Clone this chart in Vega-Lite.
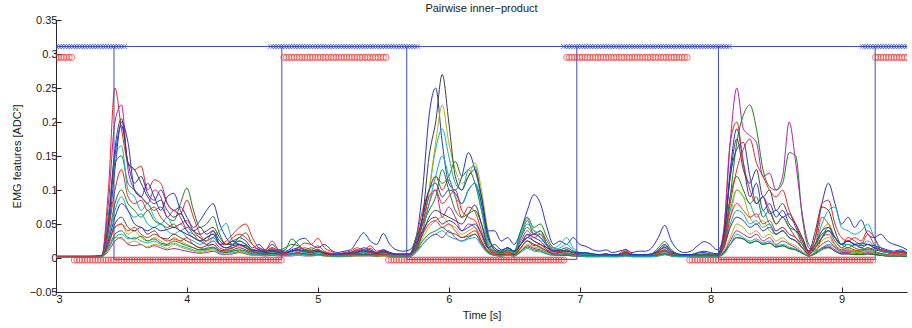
{
"$schema":"https://vega.github.io/schema/vega-lite/v6.json",
"width":851,"height":272,
"autosize":{"type":"none"},
"padding":{"left":56,"top":20,"right":5,"bottom":36},
"title":{"text":"Pairwise inner−product","fontSize":11,"fontWeight":"normal","color":"#1a1a1a","offset":0,"anchor":"middle","font":"Liberation Sans"},
"config":{"view":{"stroke":null},"font":"Liberation Sans","axis":{"grid":false,"domainColor":"#262626","tickColor":"#262626","labelColor":"#1a1a1a","titleColor":"#1a1a1a","labelFontSize":11,"titleFontSize":11,"titleFontWeight":"normal","tickSize":-5,"labelFont":"Liberation Sans","titleFont":"Liberation Sans"}},
"encoding":{
"x":{"field":"t","type":"quantitative","scale":{"domain":[3,9.5],"nice":false,"zero":false},"axis":{"values":[3,4,5,6,7,8,9],"format":"d","labelPadding":6,"title":"Time [s]","titlePadding":5}},
"y":{"field":"v","type":"quantitative","scale":{"domain":[-0.05,0.35],"nice":false,"zero":false},"axis":{"values":[-0.05,0,0.05,0.1,0.15,0.2,0.25,0.3,0.35],"format":"~g","labelPadding":4,"title":"EMG features [ADC²]","titlePadding":7}}
},
"layer":[
{"data":{"values":[
{"s":"a","t":[3,3.05,3.1,3.15,3.2,3.25,3.3,3.35,3.4,3.45,3.5,3.55,3.6,3.65,3.7,3.75,3.8,3.85,3.9,3.95,4,4.05,4.1,4.15,4.2,4.25,4.3,4.35,4.4,4.45,4.5,4.55,4.6,4.65,4.7,4.75,4.8,4.85,4.9,4.95,5,5.05,5.1,5.15,5.2,5.25,5.3,5.35,5.4,5.45,5.5,5.55,5.6,5.65,5.7,5.75,5.8,5.85,5.9,5.95,6,6.05,6.1,6.15,6.2,6.25,6.3,6.35,6.4,6.45,6.5,6.55,6.6,6.65,6.7,6.75,6.8,6.85,6.9,6.95,7,7.05,7.1,7.15,7.2,7.25,7.3,7.35,7.4,7.45,7.5,7.55,7.6,7.65,7.7,7.75,7.8,7.85,7.9,7.95,8,8.05,8.1,8.15,8.2,8.25,8.3,8.35,8.4,8.45,8.5,8.55,8.6,8.65,8.7,8.75,8.8,8.85,8.9,8.95,9,9.05,9.1,9.15,9.2,9.25,9.3,9.35,9.4,9.45,9.5],
"v":[0.002,0.002,0.002,0.002,0.002,0.002,0.003,
0.004,0.06,0.15,0.195,0.14,0.11,0.12,0.095,0.085,0.1,0.08,0.07,0.075,0.06,0.045,0.055,0.07,0.08,0.05,0.03,0.02,0.03,0.025,0.015,0.02,0.012,0.02,0.012,
0.01,0.015,0.026,0.029,0.02,0.015,0.02,0.012,0.008,0.01,0.012,0.025,0.037,0.025,0.02,0.036,0.02,0.012,0.01,
0.012,0.03,0.1,0.21,0.25,0.17,0.11,0.1,0.12,0.155,0.13,0.09,0.04,0.04,0.025,0.03,0.02,0.04,0.07,0.093,0.08,0.045,0.02,0.025,0.02,0.03,
0.02,0.017,0.012,0.01,0.012,0.008,0.01,0.012,0.008,0.01,0.01,0.015,0.03,0.048,0.025,0.012,0.008,0.01,0.018,0.024,0.02,0.012,
0.03,0.13,0.19,0.14,0.09,0.11,0.07,0.08,0.06,0.07,0.05,0.04,0.03,0.01,0.03,0.08,0.11,0.08,0.05,0.06,0.045,0.056,0.035,0.03,
0.035,0.025,0.02,0.017,0.012]},
{"s":"b","t":[3,3.05,3.1,3.15,3.2,3.25,3.3,3.35,3.4,3.45,3.5,3.55,3.6,3.65,3.7,3.75,3.8,3.85,3.9,3.95,4,4.05,4.1,4.15,4.2,4.25,4.3,4.35,4.4,4.45,4.5,4.55,4.6,4.65,4.7,4.75,4.8,4.85,4.9,4.95,5,5.05,5.1,5.15,5.2,5.25,5.3,5.35,5.4,5.45,5.5,5.55,5.6,5.65,5.7,5.75,5.8,5.85,5.9,5.95,6,6.05,6.1,6.15,6.2,6.25,6.3,6.35,6.4,6.45,6.5,6.55,6.6,6.65,6.7,6.75,6.8,6.85,6.9,6.95,7,7.05,7.1,7.15,7.2,7.25,7.3,7.35,7.4,7.45,7.5,7.55,7.6,7.65,7.7,7.75,7.8,7.85,7.9,7.95,8,8.05,8.1,8.15,8.2,8.25,8.3,8.35,8.4,8.45,8.5,8.55,8.6,8.65,8.7,8.75,8.8,8.85,8.9,8.95,9,9.05,9.1,9.15,9.2,9.25,9.3,9.35,9.4,9.45,9.5],
"v":[0.002,0.002,0.002,0.002,0.002,0.002,0.002,
0.003,0.05,0.14,0.15,0.11,0.1,0.09,0.08,0.07,0.075,0.06,0.055,0.08,0.103,0.07,0.045,0.05,0.061,0.035,0.02,0.025,0.03,0.037,0.02,0.012,0.01,0.012,0.01,
0.012,0.028,0.02,0.012,0.015,0.01,0.008,0.006,0.005,0.006,0.008,0.012,0.008,0.01,0.006,0.008,0.006,0.005,0.005,
0.005,0.02,0.06,0.1,0.12,0.11,0.12,0.142,0.12,0.13,0.11,0.07,0.03,0.015,0.01,0.015,0.01,0.04,0.06,0.045,0.05,0.03,0.015,0.012,0.01,0.008,
0.006,0.005,0.004,0.004,0.006,0.004,0.005,0.01,0.005,0.004,0.004,0.006,0.015,0.024,0.012,0.006,0.004,0.004,0.005,0.006,0.005,0.005,
0.02,0.09,0.17,0.21,0.225,0.19,0.13,0.105,0.1,0.11,0.155,0.15,0.06,0.015,0.01,0.03,0.045,0.03,0.02,0.015,0.02,0.015,0.012,0.015,
0.012,0.008,0.006,0.008,0.005]},
{"s":"c","t":[3,3.05,3.1,3.15,3.2,3.25,3.3,3.35,3.4,3.45,3.5,3.55,3.6,3.65,3.7,3.75,3.8,3.85,3.9,3.95,4,4.05,4.1,4.15,4.2,4.25,4.3,4.35,4.4,4.45,4.5,4.55,4.6,4.65,4.7,4.75,4.8,4.85,4.9,4.95,5,5.05,5.1,5.15,5.2,5.25,5.3,5.35,5.4,5.45,5.5,5.55,5.6,5.65,5.7,5.75,5.8,5.85,5.9,5.95,6,6.05,6.1,6.15,6.2,6.25,6.3,6.35,6.4,6.45,6.5,6.55,6.6,6.65,6.7,6.75,6.8,6.85,6.9,6.95,7,7.05,7.1,7.15,7.2,7.25,7.3,7.35,7.4,7.45,7.5,7.55,7.6,7.65,7.7,7.75,7.8,7.85,7.9,7.95,8,8.05,8.1,8.15,8.2,8.25,8.3,8.35,8.4,8.45,8.5,8.55,8.6,8.65,8.7,8.75,8.8,8.85,8.9,8.95,9,9.05,9.1,9.15,9.2,9.25,9.3,9.35,9.4,9.45,9.5],
"v":[0.002,0.002,0.002,0.002,0.002,0.002,0.002,
0.004,0.1,0.25,0.19,0.14,0.13,0.135,0.1,0.115,0.11,0.08,0.07,0.065,0.085,0.06,0.035,0.025,0.04,0.02,0.025,0.035,0.045,0.05,0.03,0.015,0.012,0.025,0.012,
0.008,0.01,0.015,0.022,0.02,0.029,0.015,0.01,0.006,0.008,0.01,0.015,0.012,0.018,0.01,0.012,0.008,0.006,0.006,
0.006,0.03,0.07,0.1,0.12,0.1,0.115,0.09,0.06,0.075,0.068,0.04,0.015,0.01,0.008,0.012,0.01,0.03,0.055,0.035,0.04,0.025,0.012,0.01,0.008,0.006,
0.005,0.006,0.004,0.004,0.005,0.004,0.006,0.013,0.006,0.004,0.004,0.005,0.01,0.016,0.008,0.005,0.004,0.004,0.005,0.005,0.004,0.004,
0.04,0.17,0.2,0.14,0.1,0.08,0.09,0.07,0.05,0.06,0.045,0.03,0.02,0.008,0.02,0.06,0.05,0.03,0.02,0.03,0.025,0.02,0.035,0.02,
0.012,0.01,0.008,0.01,0.006]},
{"s":"d","t":[3,3.05,3.1,3.15,3.2,3.25,3.3,3.35,3.4,3.45,3.5,3.55,3.6,3.65,3.7,3.75,3.8,3.85,3.9,3.95,4,4.05,4.1,4.15,4.2,4.25,4.3,4.35,4.4,4.45,4.5,4.55,4.6,4.65,4.7,4.75,4.8,4.85,4.9,4.95,5,5.05,5.1,5.15,5.2,5.25,5.3,5.35,5.4,5.45,5.5,5.55,5.6,5.65,5.7,5.75,5.8,5.85,5.9,5.95,6,6.05,6.1,6.15,6.2,6.25,6.3,6.35,6.4,6.45,6.5,6.55,6.6,6.65,6.7,6.75,6.8,6.85,6.9,6.95,7,7.05,7.1,7.15,7.2,7.25,7.3,7.35,7.4,7.45,7.5,7.55,7.6,7.65,7.7,7.75,7.8,7.85,7.9,7.95,8,8.05,8.1,8.15,8.2,8.25,8.3,8.35,8.4,8.45,8.5,8.55,8.6,8.65,8.7,8.75,8.8,8.85,8.9,8.95,9,9.05,9.1,9.15,9.2,9.25,9.3,9.35,9.4,9.45,9.5],
"v":[0.002,0.002,0.002,0.002,0.002,0.002,0.002,
0.003,0.06,0.15,0.165,0.1,0.09,0.07,0.08,0.06,0.05,0.06,0.045,0.05,0.04,0.035,0.03,0.02,0.03,0.04,0.051,0.025,0.02,0.015,0.01,0.012,0.008,0.01,0.008,
0.006,0.01,0.012,0.008,0.01,0.012,0.007,0.005,0.005,0.006,0.005,0.008,0.01,0.008,0.006,0.01,0.006,0.005,0.005,
0.005,0.02,0.05,0.1,0.16,0.19,0.15,0.11,0.1,0.13,0.135,0.08,0.025,0.012,0.008,0.012,0.01,0.035,0.058,0.04,0.03,0.02,0.015,0.02,0.03,0.015,
0.008,0.006,0.005,0.004,0.005,0.004,0.004,0.006,0.004,0.004,0.004,0.005,0.008,0.01,0.006,0.004,0.004,0.004,0.004,0.005,0.004,0.004,
0.02,0.07,0.1,0.09,0.08,0.06,0.07,0.05,0.04,0.045,0.035,0.03,0.02,0.008,0.02,0.05,0.07,0.075,0.045,0.04,0.035,0.04,0.05,0.03,
0.015,0.01,0.008,0.01,0.007]},
{"s":"e","t":[3,3.05,3.1,3.15,3.2,3.25,3.3,3.35,3.4,3.45,3.5,3.55,3.6,3.65,3.7,3.75,3.8,3.85,3.9,3.95,4,4.05,4.1,4.15,4.2,4.25,4.3,4.35,4.4,4.45,4.5,4.55,4.6,4.65,4.7,4.75,4.8,4.85,4.9,4.95,5,5.05,5.1,5.15,5.2,5.25,5.3,5.35,5.4,5.45,5.5,5.55,5.6,5.65,5.7,5.75,5.8,5.85,5.9,5.95,6,6.05,6.1,6.15,6.2,6.25,6.3,6.35,6.4,6.45,6.5,6.55,6.6,6.65,6.7,6.75,6.8,6.85,6.9,6.95,7,7.05,7.1,7.15,7.2,7.25,7.3,7.35,7.4,7.45,7.5,7.55,7.6,7.65,7.7,7.75,7.8,7.85,7.9,7.95,8,8.05,8.1,8.15,8.2,8.25,8.3,8.35,8.4,8.45,8.5,8.55,8.6,8.65,8.7,8.75,8.8,8.85,8.9,8.95,9,9.05,9.1,9.15,9.2,9.25,9.3,9.35,9.4,9.45,9.5],
"v":[0.002,0.002,0.002,0.002,0.002,0.002,0.002,
0.003,0.08,0.2,0.225,0.13,0.1,0.09,0.08,0.1,0.09,0.06,0.07,0.06,0.04,0.03,0.025,0.02,0.025,0.015,0.012,0.015,0.02,0.015,0.01,0.008,0.008,0.01,0.008,
0.005,0.006,0.008,0.006,0.006,0.008,0.005,0.004,0.004,0.004,0.005,0.006,0.005,0.006,0.004,0.005,0.004,0.004,0.004,
0.004,0.015,0.04,0.08,0.1,0.06,0.075,0.06,0.04,0.05,0.045,0.025,0.01,0.008,0.006,0.008,0.006,0.02,0.034,0.025,0.02,0.012,0.008,0.006,0.006,0.005,
0.004,0.004,0.003,0.003,0.004,0.003,0.004,0.006,0.004,0.003,0.003,0.004,0.006,0.01,0.005,0.003,0.003,0.003,0.004,0.004,0.004,0.004,
0.04,0.17,0.25,0.19,0.18,0.17,0.12,0.125,0.1,0.12,0.2,0.14,0.065,0.02,0.012,0.02,0.025,0.015,0.01,0.012,0.01,0.008,0.01,0.008,
0.006,0.005,0.004,0.005,0.004]},
{"s":"f","t":[3,3.05,3.1,3.15,3.2,3.25,3.3,3.35,3.4,3.45,3.5,3.55,3.6,3.65,3.7,3.75,3.8,3.85,3.9,3.95,4,4.05,4.1,4.15,4.2,4.25,4.3,4.35,4.4,4.45,4.5,4.55,4.6,4.65,4.7,4.75,4.8,4.85,4.9,4.95,5,5.05,5.1,5.15,5.2,5.25,5.3,5.35,5.4,5.45,5.5,5.55,5.6,5.65,5.7,5.75,5.8,5.85,5.9,5.95,6,6.05,6.1,6.15,6.2,6.25,6.3,6.35,6.4,6.45,6.5,6.55,6.6,6.65,6.7,6.75,6.8,6.85,6.9,6.95,7,7.05,7.1,7.15,7.2,7.25,7.3,7.35,7.4,7.45,7.5,7.55,7.6,7.65,7.7,7.75,7.8,7.85,7.9,7.95,8,8.05,8.1,8.15,8.2,8.25,8.3,8.35,8.4,8.45,8.5,8.55,8.6,8.65,8.7,8.75,8.8,8.85,8.9,8.95,9,9.05,9.1,9.15,9.2,9.25,9.3,9.35,9.4,9.45,9.5],
"v":[0.002,0.002,0.002,0.002,0.002,0.002,0.002,
0.002,0.02,0.045,0.05,0.035,0.04,0.03,0.025,0.03,0.025,0.02,0.03,0.025,0.02,0.015,0.012,0.015,0.02,0.01,0.008,0.01,0.012,0.01,0.006,0.006,0.005,0.006,0.005,
0.004,0.005,0.006,0.005,0.004,0.005,0.004,0.003,0.003,0.003,0.004,0.005,0.004,0.005,0.003,0.004,0.003,0.003,0.003,
0.004,0.012,0.04,0.1,0.17,0.225,0.17,0.13,0.11,0.12,0.14,0.1,0.04,0.012,0.008,0.008,0.006,0.015,0.025,0.02,0.015,0.01,0.006,0.005,0.005,0.004,
0.003,0.003,0.003,0.003,0.003,0.003,0.003,0.004,0.003,0.003,0.003,0.003,0.005,0.007,0.004,0.003,0.003,0.003,0.003,0.003,0.003,0.003,
0.015,0.06,0.1,0.09,0.06,0.05,0.055,0.04,0.035,0.04,0.03,0.025,0.015,0.006,0.015,0.04,0.05,0.03,0.015,0.012,0.01,0.012,0.01,0.008,
0.006,0.005,0.004,0.005,0.004]},
{"s":"g","t":[3,3.05,3.1,3.15,3.2,3.25,3.3,3.35,3.4,3.45,3.5,3.55,3.6,3.65,3.7,3.75,3.8,3.85,3.9,3.95,4,4.05,4.1,4.15,4.2,4.25,4.3,4.35,4.4,4.45,4.5,4.55,4.6,4.65,4.7,4.75,4.8,4.85,4.9,4.95,5,5.05,5.1,5.15,5.2,5.25,5.3,5.35,5.4,5.45,5.5,5.55,5.6,5.65,5.7,5.75,5.8,5.85,5.9,5.95,6,6.05,6.1,6.15,6.2,6.25,6.3,6.35,6.4,6.45,6.5,6.55,6.6,6.65,6.7,6.75,6.8,6.85,6.9,6.95,7,7.05,7.1,7.15,7.2,7.25,7.3,7.35,7.4,7.45,7.5,7.55,7.6,7.65,7.7,7.75,7.8,7.85,7.9,7.95,8,8.05,8.1,8.15,8.2,8.25,8.3,8.35,8.4,8.45,8.5,8.55,8.6,8.65,8.7,8.75,8.8,8.85,8.9,8.95,9,9.05,9.1,9.15,9.2,9.25,9.3,9.35,9.4,9.45,9.5],
"v":[0.003,0.003,0.003,0.003,0.003,0.003,0.003,
0.004,0.05,0.16,0.205,0.14,0.13,0.11,0.09,0.08,0.085,0.07,0.06,0.065,0.05,0.04,0.035,0.04,0.045,0.03,0.02,0.02,0.025,0.02,0.012,0.01,0.01,0.012,0.01,
0.008,0.01,0.012,0.01,0.008,0.01,0.007,0.006,0.005,0.006,0.006,0.008,0.01,0.008,0.006,0.008,0.006,0.005,0.005,
0.005,0.015,0.06,0.15,0.2,0.27,0.2,0.12,0.1,0.12,0.13,0.09,0.035,0.012,0.008,0.01,0.008,0.02,0.03,0.025,0.02,0.015,0.01,0.008,0.01,0.008,
0.006,0.005,0.004,0.004,0.005,0.004,0.004,0.006,0.004,0.004,0.004,0.005,0.008,0.012,0.006,0.004,0.004,0.004,0.005,0.005,0.005,0.005,
0.03,0.12,0.175,0.13,0.11,0.13,0.09,0.1,0.07,0.08,0.06,0.05,0.03,0.01,0.04,0.075,0.07,0.04,0.02,0.025,0.02,0.015,0.02,0.015,
0.01,0.008,0.006,0.008,0.006]},
{"s":"h","t":[3,3.05,3.1,3.15,3.2,3.25,3.3,3.35,3.4,3.45,3.5,3.55,3.6,3.65,3.7,3.75,3.8,3.85,3.9,3.95,4,4.05,4.1,4.15,4.2,4.25,4.3,4.35,4.4,4.45,4.5,4.55,4.6,4.65,4.7,4.75,4.8,4.85,4.9,4.95,5,5.05,5.1,5.15,5.2,5.25,5.3,5.35,5.4,5.45,5.5,5.55,5.6,5.65,5.7,5.75,5.8,5.85,5.9,5.95,6,6.05,6.1,6.15,6.2,6.25,6.3,6.35,6.4,6.45,6.5,6.55,6.6,6.65,6.7,6.75,6.8,6.85,6.9,6.95,7,7.05,7.1,7.15,7.2,7.25,7.3,7.35,7.4,7.45,7.5,7.55,7.6,7.65,7.7,7.75,7.8,7.85,7.9,7.95,8,8.05,8.1,8.15,8.2,8.25,8.3,8.35,8.4,8.45,8.5,8.55,8.6,8.65,8.7,8.75,8.8,8.85,8.9,8.95,9,9.05,9.1,9.15,9.2,9.25,9.3,9.35,9.4,9.45,9.5],
"v":[0.002,0.002,0.002,0.002,0.002,0.002,0.002,
0.003,0.04,0.13,0.2,0.17,0.1,0.09,0.11,0.09,0.07,0.09,0.095,0.07,0.05,0.04,0.045,0.035,0.04,0.025,0.02,0.025,0.02,0.018,0.012,0.015,0.01,0.012,0.01,
0.008,0.012,0.015,0.012,0.01,0.012,0.008,0.006,0.006,0.007,0.008,0.01,0.015,0.012,0.008,0.012,0.008,0.006,0.006,
0.006,0.025,0.06,0.1,0.11,0.09,0.1,0.095,0.08,0.1,0.11,0.08,0.03,0.015,0.01,0.015,0.01,0.02,0.035,0.03,0.025,0.015,0.01,0.01,0.012,0.008,
0.008,0.007,0.006,0.005,0.006,0.005,0.005,0.008,0.005,0.005,0.005,0.006,0.01,0.015,0.008,0.005,0.005,0.005,0.007,0.008,0.006,0.006,
0.03,0.12,0.16,0.17,0.12,0.08,0.09,0.065,0.07,0.06,0.065,0.045,0.025,0.01,0.02,0.04,0.045,0.03,0.02,0.025,0.02,0.018,0.02,0.015,
0.012,0.01,0.008,0.01,0.007]},
{"s":"i","t":[3,3.05,3.1,3.15,3.2,3.25,3.3,3.35,3.4,3.45,3.5,3.55,3.6,3.65,3.7,3.75,3.8,3.85,3.9,3.95,4,4.05,4.1,4.15,4.2,4.25,4.3,4.35,4.4,4.45,4.5,4.55,4.6,4.65,4.7,4.75,4.8,4.85,4.9,4.95,5,5.05,5.1,5.15,5.2,5.25,5.3,5.35,5.4,5.45,5.5,5.55,5.6,5.65,5.7,5.75,5.8,5.85,5.9,5.95,6,6.05,6.1,6.15,6.2,6.25,6.3,6.35,6.4,6.45,6.5,6.55,6.6,6.65,6.7,6.75,6.8,6.85,6.9,6.95,7,7.05,7.1,7.15,7.2,7.25,7.3,7.35,7.4,7.45,7.5,7.55,7.6,7.65,7.7,7.75,7.8,7.85,7.9,7.95,8,8.05,8.1,8.15,8.2,8.25,8.3,8.35,8.4,8.45,8.5,8.55,8.6,8.65,8.7,8.75,8.8,8.85,8.9,8.95,9,9.05,9.1,9.15,9.2,9.25,9.3,9.35,9.4,9.45,9.5],
"v":[0.002,0.002,0.002,0.002,0.002,0.002,0.002,
0.003,0.03,0.08,0.1,0.08,0.07,0.06,0.07,0.055,0.05,0.045,0.05,0.04,0.045,0.035,0.025,0.03,0.035,0.02,0.015,0.02,0.025,0.02,0.012,0.01,0.01,0.015,0.012,
0.015,0.02,0.018,0.012,0.01,0.012,0.008,0.006,0.005,0.006,0.007,0.01,0.008,0.01,0.007,0.008,0.006,0.005,0.005,
0.005,0.03,0.05,0.07,0.09,0.13,0.1,0.07,0.06,0.065,0.07,0.05,0.02,0.01,0.008,0.012,0.01,0.03,0.045,0.035,0.04,0.02,0.012,0.01,0.012,0.008,
0.006,0.005,0.005,0.004,0.005,0.004,0.005,0.008,0.005,0.004,0.004,0.005,0.01,0.018,0.01,0.005,0.004,0.004,0.005,0.005,0.005,0.005,
0.025,0.09,0.12,0.1,0.08,0.09,0.06,0.07,0.05,0.06,0.045,0.04,0.02,0.008,0.02,0.035,0.04,0.025,0.015,0.02,0.015,0.012,0.015,0.012,
0.01,0.008,0.006,0.008,0.006]},
{"s":"j","t":[3,3.05,3.1,3.15,3.2,3.25,3.3,3.35,3.4,3.45,3.5,3.55,3.6,3.65,3.7,3.75,3.8,3.85,3.9,3.95,4,4.05,4.1,4.15,4.2,4.25,4.3,4.35,4.4,4.45,4.5,4.55,4.6,4.65,4.7,4.75,4.8,4.85,4.9,4.95,5,5.05,5.1,5.15,5.2,5.25,5.3,5.35,5.4,5.45,5.5,5.55,5.6,5.65,5.7,5.75,5.8,5.85,5.9,5.95,6,6.05,6.1,6.15,6.2,6.25,6.3,6.35,6.4,6.45,6.5,6.55,6.6,6.65,6.7,6.75,6.8,6.85,6.9,6.95,7,7.05,7.1,7.15,7.2,7.25,7.3,7.35,7.4,7.45,7.5,7.55,7.6,7.65,7.7,7.75,7.8,7.85,7.9,7.95,8,8.05,8.1,8.15,8.2,8.25,8.3,8.35,8.4,8.45,8.5,8.55,8.6,8.65,8.7,8.75,8.8,8.85,8.9,8.95,9,9.05,9.1,9.15,9.2,9.25,9.3,9.35,9.4,9.45,9.5],
"v":[0.002,0.002,0.002,0.002,0.002,0.002,0.002,
0.003,0.04,0.1,0.13,0.09,0.08,0.085,0.07,0.075,0.06,0.05,0.045,0.05,0.055,0.04,0.03,0.025,0.03,0.02,0.02,0.03,0.035,0.03,0.02,0.012,0.01,0.015,0.01,
0.008,0.01,0.012,0.015,0.012,0.018,0.01,0.007,0.005,0.006,0.008,0.012,0.01,0.014,0.008,0.01,0.007,0.005,0.005,
0.005,0.02,0.05,0.09,0.1,0.08,0.09,0.1,0.07,0.06,0.055,0.035,0.015,0.008,0.006,0.008,0.006,0.025,0.04,0.03,0.035,0.02,0.01,0.008,0.006,0.005,
0.004,0.004,0.003,0.004,0.005,0.003,0.004,0.01,0.004,0.003,0.003,0.004,0.008,0.012,0.006,0.004,0.003,0.003,0.004,0.004,0.004,0.004,
0.02,0.08,0.13,0.16,0.175,0.14,0.12,0.1,0.09,0.1,0.07,0.05,0.025,0.008,0.03,0.08,0.085,0.05,0.03,0.025,0.03,0.025,0.04,0.03,
0.012,0.01,0.008,0.009,0.006]},
{"s":"k","t":[3,3.05,3.1,3.15,3.2,3.25,3.3,3.35,3.4,3.45,3.5,3.55,3.6,3.65,3.7,3.75,3.8,3.85,3.9,3.95,4,4.05,4.1,4.15,4.2,4.25,4.3,4.35,4.4,4.45,4.5,4.55,4.6,4.65,4.7,4.75,4.8,4.85,4.9,4.95,5,5.05,5.1,5.15,5.2,5.25,5.3,5.35,5.4,5.45,5.5,5.55,5.6,5.65,5.7,5.75,5.8,5.85,5.9,5.95,6,6.05,6.1,6.15,6.2,6.25,6.3,6.35,6.4,6.45,6.5,6.55,6.6,6.65,6.7,6.75,6.8,6.85,6.9,6.95,7,7.05,7.1,7.15,7.2,7.25,7.3,7.35,7.4,7.45,7.5,7.55,7.6,7.65,7.7,7.75,7.8,7.85,7.9,7.95,8,8.05,8.1,8.15,8.2,8.25,8.3,8.35,8.4,8.45,8.5,8.55,8.6,8.65,8.7,8.75,8.8,8.85,8.9,8.95,9,9.05,9.1,9.15,9.2,9.25,9.3,9.35,9.4,9.45,9.5],
"v":[0.002,0.002,0.002,0.002,0.002,0.002,0.002,
0.003,0.03,0.07,0.09,0.07,0.06,0.065,0.05,0.045,0.05,0.04,0.035,0.04,0.03,0.025,0.02,0.025,0.03,0.02,0.015,0.015,0.02,0.015,0.01,0.008,0.007,0.008,0.007,
0.006,0.008,0.01,0.008,0.007,0.008,0.006,0.004,0.004,0.005,0.005,0.006,0.008,0.006,0.005,0.007,0.005,0.004,0.004,
0.004,0.015,0.04,0.08,0.12,0.15,0.12,0.09,0.08,0.1,0.11,0.07,0.02,0.01,0.006,0.01,0.008,0.03,0.05,0.04,0.035,0.02,0.012,0.015,0.02,0.012,
0.006,0.005,0.004,0.004,0.004,0.003,0.004,0.005,0.004,0.003,0.003,0.004,0.006,0.008,0.005,0.004,0.003,0.003,0.004,0.004,0.004,0.004,
0.015,0.05,0.07,0.065,0.05,0.055,0.045,0.05,0.035,0.04,0.03,0.025,0.015,0.006,0.015,0.03,0.04,0.03,0.02,0.02,0.018,0.02,0.025,0.018,
0.01,0.008,0.006,0.007,0.005]},
{"s":"l","t":[3,3.05,3.1,3.15,3.2,3.25,3.3,3.35,3.4,3.45,3.5,3.55,3.6,3.65,3.7,3.75,3.8,3.85,3.9,3.95,4,4.05,4.1,4.15,4.2,4.25,4.3,4.35,4.4,4.45,4.5,4.55,4.6,4.65,4.7,4.75,4.8,4.85,4.9,4.95,5,5.05,5.1,5.15,5.2,5.25,5.3,5.35,5.4,5.45,5.5,5.55,5.6,5.65,5.7,5.75,5.8,5.85,5.9,5.95,6,6.05,6.1,6.15,6.2,6.25,6.3,6.35,6.4,6.45,6.5,6.55,6.6,6.65,6.7,6.75,6.8,6.85,6.9,6.95,7,7.05,7.1,7.15,7.2,7.25,7.3,7.35,7.4,7.45,7.5,7.55,7.6,7.65,7.7,7.75,7.8,7.85,7.9,7.95,8,8.05,8.1,8.15,8.2,8.25,8.3,8.35,8.4,8.45,8.5,8.55,8.6,8.65,8.7,8.75,8.8,8.85,8.9,8.95,9,9.05,9.1,9.15,9.2,9.25,9.3,9.35,9.4,9.45,9.5],
"v":[0.001,0.001,0.001,0.001,0.001,0.001,0.001,
0.002,0.01,0.025,0.03,0.02,0.018,0.02,0.015,0.018,0.015,0.012,0.014,0.012,0.01,0.008,0.007,0.008,0.01,0.006,0.005,0.006,0.008,0.006,0.004,0.004,0.003,0.004,0.003,
0.003,0.003,0.004,0.003,0.003,0.004,0.003,0.002,0.002,0.002,0.003,0.003,0.003,0.003,0.002,0.003,0.002,0.002,0.002,
0.002,0.008,0.02,0.03,0.035,0.03,0.04,0.03,0.025,0.03,0.035,0.02,0.008,0.004,0.003,0.004,0.003,0.01,0.018,0.014,0.012,0.008,0.005,0.004,0.004,0.003,
0.003,0.002,0.002,0.002,0.002,0.002,0.002,0.003,0.002,0.002,0.002,0.002,0.003,0.005,0.003,0.002,0.002,0.002,0.002,0.002,0.002,0.002,
0.008,0.025,0.04,0.035,0.03,0.035,0.025,0.03,0.02,0.025,0.02,0.015,0.008,0.003,0.008,0.015,0.018,0.012,0.008,0.008,0.007,0.006,0.008,0.006,
0.004,0.003,0.003,0.003,0.002]},
{"s":"m","t":[3,3.05,3.1,3.15,3.2,3.25,3.3,3.35,3.4,3.45,3.5,3.55,3.6,3.65,3.7,3.75,3.8,3.85,3.9,3.95,4,4.05,4.1,4.15,4.2,4.25,4.3,4.35,4.4,4.45,4.5,4.55,4.6,4.65,4.7,4.75,4.8,4.85,4.9,4.95,5,5.05,5.1,5.15,5.2,5.25,5.3,5.35,5.4,5.45,5.5,5.55,5.6,5.65,5.7,5.75,5.8,5.85,5.9,5.95,6,6.05,6.1,6.15,6.2,6.25,6.3,6.35,6.4,6.45,6.5,6.55,6.6,6.65,6.7,6.75,6.8,6.85,6.9,6.95,7,7.05,7.1,7.15,7.2,7.25,7.3,7.35,7.4,7.45,7.5,7.55,7.6,7.65,7.7,7.75,7.8,7.85,7.9,7.95,8,8.05,8.1,8.15,8.2,8.25,8.3,8.35,8.4,8.45,8.5,8.55,8.6,8.65,8.7,8.75,8.8,8.85,8.9,8.95,9,9.05,9.1,9.15,9.2,9.25,9.3,9.35,9.4,9.45,9.5],
"v":[0.001,0.001,0.001,0.001,0.001,0.001,0.001,
0.002,0.012,0.03,0.028,0.022,0.025,0.02,0.016,0.02,0.018,0.014,0.02,0.016,0.013,0.01,0.008,0.01,0.012,0.007,0.006,0.007,0.009,0.007,0.004,0.004,0.004,0.005,0.004,
0.003,0.004,0.004,0.004,0.003,0.004,0.003,0.002,0.002,0.002,0.003,0.003,0.003,0.004,0.002,0.003,0.002,0.002,0.002,
0.003,0.01,0.03,0.045,0.055,0.06,0.05,0.045,0.035,0.04,0.045,0.03,0.012,0.005,0.004,0.005,0.004,0.012,0.02,0.016,0.014,0.008,0.005,0.004,0.004,0.003,
0.003,0.002,0.002,0.002,0.002,0.002,0.002,0.003,0.002,0.002,0.002,0.002,0.003,0.005,0.003,0.002,0.002,0.002,0.002,0.002,0.002,0.002,
0.01,0.03,0.05,0.045,0.035,0.04,0.03,0.035,0.025,0.03,0.022,0.018,0.01,0.004,0.01,0.025,0.03,0.018,0.01,0.01,0.008,0.008,0.01,0.007,
0.005,0.004,0.003,0.004,0.003]},
{"s":"n","t":[3,3.05,3.1,3.15,3.2,3.25,3.3,3.35,3.4,3.45,3.5,3.55,3.6,3.65,3.7,3.75,3.8,3.85,3.9,3.95,4,4.05,4.1,4.15,4.2,4.25,4.3,4.35,4.4,4.45,4.5,4.55,4.6,4.65,4.7,4.75,4.8,4.85,4.9,4.95,5,5.05,5.1,5.15,5.2,5.25,5.3,5.35,5.4,5.45,5.5,5.55,5.6,5.65,5.7,5.75,5.8,5.85,5.9,5.95,6,6.05,6.1,6.15,6.2,6.25,6.3,6.35,6.4,6.45,6.5,6.55,6.6,6.65,6.7,6.75,6.8,6.85,6.9,6.95,7,7.05,7.1,7.15,7.2,7.25,7.3,7.35,7.4,7.45,7.5,7.55,7.6,7.65,7.7,7.75,7.8,7.85,7.9,7.95,8,8.05,8.1,8.15,8.2,8.25,8.3,8.35,8.4,8.45,8.5,8.55,8.6,8.65,8.7,8.75,8.8,8.85,8.9,8.95,9,9.05,9.1,9.15,9.2,9.25,9.3,9.35,9.4,9.45,9.5],
"v":[0.002,0.002,0.002,0.002,0.002,0.002,0.002,
0.003,0.02,0.05,0.06,0.045,0.04,0.045,0.035,0.04,0.03,0.028,0.035,0.03,0.025,0.02,0.015,0.018,0.02,0.012,0.01,0.012,0.015,0.012,0.008,0.007,0.006,0.007,0.006,
0.005,0.006,0.007,0.006,0.005,0.006,0.004,0.004,0.003,0.004,0.004,0.005,0.005,0.005,0.004,0.005,0.004,0.003,0.003,
0.003,0.012,0.035,0.06,0.07,0.065,0.06,0.055,0.05,0.065,0.078,0.05,0.015,0.006,0.005,0.006,0.005,0.015,0.025,0.02,0.016,0.01,0.006,0.005,0.005,0.004,
0.003,0.003,0.003,0.003,0.003,0.003,0.003,0.004,0.003,0.003,0.003,0.003,0.004,0.006,0.004,0.003,0.003,0.003,0.003,0.003,0.003,0.003,
0.008,0.02,0.03,0.028,0.022,0.025,0.02,0.022,0.016,0.018,0.014,0.012,0.007,0.003,0.007,0.014,0.016,0.01,0.006,0.006,0.005,0.005,0.006,0.005,
0.004,0.003,0.003,0.003,0.002]},
{"s":"o","t":[3,3.05,3.1,3.15,3.2,3.25,3.3,3.35,3.4,3.45,3.5,3.55,3.6,3.65,3.7,3.75,3.8,3.85,3.9,3.95,4,4.05,4.1,4.15,4.2,4.25,4.3,4.35,4.4,4.45,4.5,4.55,4.6,4.65,4.7,4.75,4.8,4.85,4.9,4.95,5,5.05,5.1,5.15,5.2,5.25,5.3,5.35,5.4,5.45,5.5,5.55,5.6,5.65,5.7,5.75,5.8,5.85,5.9,5.95,6,6.05,6.1,6.15,6.2,6.25,6.3,6.35,6.4,6.45,6.5,6.55,6.6,6.65,6.7,6.75,6.8,6.85,6.9,6.95,7,7.05,7.1,7.15,7.2,7.25,7.3,7.35,7.4,7.45,7.5,7.55,7.6,7.65,7.7,7.75,7.8,7.85,7.9,7.95,8,8.05,8.1,8.15,8.2,8.25,8.3,8.35,8.4,8.45,8.5,8.55,8.6,8.65,8.7,8.75,8.8,8.85,8.9,8.95,9,9.05,9.1,9.15,9.2,9.25,9.3,9.35,9.4,9.45,9.5],
"v":[0.002,0.002,0.002,0.002,0.002,0.002,0.002,
0.003,0.025,0.06,0.08,0.07,0.05,0.045,0.04,0.045,0.04,0.042,0.045,0.04,0.035,0.03,0.025,0.03,0.035,0.02,0.015,0.018,0.02,0.016,0.01,0.012,0.008,0.01,0.008,
0.007,0.01,0.012,0.01,0.008,0.01,0.007,0.005,0.005,0.006,0.007,0.008,0.012,0.01,0.007,0.01,0.007,0.005,0.005,
0.005,0.02,0.04,0.055,0.06,0.05,0.055,0.05,0.04,0.045,0.05,0.035,0.015,0.02,0.012,0.015,0.01,0.02,0.03,0.035,0.03,0.018,0.01,0.012,0.015,0.01,
0.007,0.008,0.006,0.005,0.006,0.004,0.005,0.007,0.005,0.005,0.005,0.006,0.012,0.02,0.01,0.006,0.005,0.005,0.008,0.01,0.008,0.006,
0.015,0.045,0.06,0.055,0.045,0.05,0.04,0.045,0.035,0.04,0.03,0.025,0.015,0.006,0.015,0.03,0.04,0.03,0.02,0.025,0.02,0.022,0.02,0.018,
0.015,0.012,0.01,0.012,0.008]},
{"s":"p","t":[3,3.05,3.1,3.15,3.2,3.25,3.3,3.35,3.4,3.45,3.5,3.55,3.6,3.65,3.7,3.75,3.8,3.85,3.9,3.95,4,4.05,4.1,4.15,4.2,4.25,4.3,4.35,4.4,4.45,4.5,4.55,4.6,4.65,4.7,4.75,4.8,4.85,4.9,4.95,5,5.05,5.1,5.15,5.2,5.25,5.3,5.35,5.4,5.45,5.5,5.55,5.6,5.65,5.7,5.75,5.8,5.85,5.9,5.95,6,6.05,6.1,6.15,6.2,6.25,6.3,6.35,6.4,6.45,6.5,6.55,6.6,6.65,6.7,6.75,6.8,6.85,6.9,6.95,7,7.05,7.1,7.15,7.2,7.25,7.3,7.35,7.4,7.45,7.5,7.55,7.6,7.65,7.7,7.75,7.8,7.85,7.9,7.95,8,8.05,8.1,8.15,8.2,8.25,8.3,8.35,8.4,8.45,8.5,8.55,8.6,8.65,8.7,8.75,8.8,8.85,8.9,8.95,9,9.05,9.1,9.15,9.2,9.25,9.3,9.35,9.4,9.45,9.5],
"v":[0.001,0.001,0.001,0.001,0.001,0.001,0.001,
0.002,0.015,0.035,0.04,0.03,0.028,0.032,0.025,0.028,0.022,0.02,0.025,0.022,0.018,0.015,0.012,0.014,0.016,0.01,0.008,0.01,0.012,0.01,0.006,0.005,0.005,0.006,0.005,
0.004,0.005,0.006,0.005,0.004,0.005,0.004,0.003,0.003,0.003,0.003,0.004,0.004,0.004,0.003,0.004,0.003,0.003,0.003,
0.003,0.01,0.025,0.035,0.04,0.045,0.038,0.035,0.03,0.032,0.035,0.022,0.008,0.004,0.003,0.004,0.003,0.01,0.016,0.012,0.01,0.006,0.004,0.004,0.004,0.003,
0.003,0.002,0.002,0.002,0.003,0.002,0.002,0.004,0.002,0.002,0.002,0.002,0.004,0.006,0.003,0.002,0.002,0.002,0.002,0.002,0.002,0.002,
0.006,0.02,0.03,0.028,0.022,0.025,0.02,0.022,0.016,0.018,0.014,0.012,0.007,0.003,0.006,0.012,0.015,0.01,0.006,0.006,0.005,0.005,0.006,0.005,
0.004,0.003,0.003,0.003,0.002]},
{"s":"q","t":[3,3.05,3.1,3.15,3.2,3.25,3.3,3.35,3.4,3.45,3.5,3.55,3.6,3.65,3.7,3.75,3.8,3.85,3.9,3.95,4,4.05,4.1,4.15,4.2,4.25,4.3,4.35,4.4,4.45,4.5,4.55,4.6,4.65,4.7,4.75,4.8,4.85,4.9,4.95,5,5.05,5.1,5.15,5.2,5.25,5.3,5.35,5.4,5.45,5.5,5.55,5.6,5.65,5.7,5.75,5.8,5.85,5.9,5.95,6,6.05,6.1,6.15,6.2,6.25,6.3,6.35,6.4,6.45,6.5,6.55,6.6,6.65,6.7,6.75,6.8,6.85,6.9,6.95,7,7.05,7.1,7.15,7.2,7.25,7.3,7.35,7.4,7.45,7.5,7.55,7.6,7.65,7.7,7.75,7.8,7.85,7.9,7.95,8,8.05,8.1,8.15,8.2,8.25,8.3,8.35,8.4,8.45,8.5,8.55,8.6,8.65,8.7,8.75,8.8,8.85,8.9,8.95,9,9.05,9.1,9.15,9.2,9.25,9.3,9.35,9.4,9.45,9.5],
"v":[0.002,0.002,0.002,0.002,0.002,0.002,0.002,
0.003,0.02,0.045,0.05,0.04,0.045,0.035,0.03,0.035,0.03,0.025,0.028,0.025,0.03,0.02,0.015,0.012,0.015,0.01,0.012,0.015,0.018,0.015,0.01,0.007,0.006,0.01,0.006,
0.005,0.006,0.008,0.01,0.008,0.012,0.006,0.004,0.004,0.004,0.005,0.007,0.006,0.008,0.005,0.006,0.004,0.004,0.004,
0.004,0.015,0.035,0.05,0.055,0.045,0.05,0.04,0.03,0.035,0.04,0.025,0.01,0.005,0.004,0.005,0.004,0.015,0.025,0.018,0.02,0.012,0.006,0.005,0.004,0.004,
0.003,0.003,0.003,0.003,0.003,0.003,0.003,0.008,0.003,0.003,0.003,0.003,0.006,0.01,0.005,0.003,0.003,0.003,0.003,0.003,0.003,0.003,
0.015,0.06,0.08,0.07,0.06,0.065,0.05,0.055,0.04,0.045,0.035,0.03,0.015,0.005,0.015,0.03,0.035,0.02,0.012,0.015,0.012,0.01,0.015,0.01,
0.007,0.005,0.004,0.005,0.004]},
{"s":"r","t":[3,3.05,3.1,3.15,3.2,3.25,3.3,3.35,3.4,3.45,3.5,3.55,3.6,3.65,3.7,3.75,3.8,3.85,3.9,3.95,4,4.05,4.1,4.15,4.2,4.25,4.3,4.35,4.4,4.45,4.5,4.55,4.6,4.65,4.7,4.75,4.8,4.85,4.9,4.95,5,5.05,5.1,5.15,5.2,5.25,5.3,5.35,5.4,5.45,5.5,5.55,5.6,5.65,5.7,5.75,5.8,5.85,5.9,5.95,6,6.05,6.1,6.15,6.2,6.25,6.3,6.35,6.4,6.45,6.5,6.55,6.6,6.65,6.7,6.75,6.8,6.85,6.9,6.95,7,7.05,7.1,7.15,7.2,7.25,7.3,7.35,7.4,7.45,7.5,7.55,7.6,7.65,7.7,7.75,7.8,7.85,7.9,7.95,8,8.05,8.1,8.15,8.2,8.25,8.3,8.35,8.4,8.45,8.5,8.55,8.6,8.65,8.7,8.75,8.8,8.85,8.9,8.95,9,9.05,9.1,9.15,9.2,9.25,9.3,9.35,9.4,9.45,9.5],
"v":[0.001,0.001,0.001,0.001,0.001,0.001,0.001,
0.002,0.015,0.03,0.035,0.028,0.03,0.025,0.022,0.025,0.02,0.018,0.022,0.018,0.015,0.012,0.01,0.012,0.014,0.008,0.01,0.008,0.01,0.008,0.005,0.005,0.004,0.005,0.004,
0.004,0.005,0.006,0.005,0.004,0.005,0.004,0.003,0.003,0.003,0.003,0.004,0.004,0.004,0.003,0.004,0.003,0.003,0.003,
0.003,0.01,0.02,0.03,0.035,0.04,0.032,0.028,0.025,0.028,0.03,0.018,0.007,0.004,0.003,0.004,0.003,0.008,0.014,0.01,0.009,0.006,0.004,0.005,0.006,0.004,
0.003,0.002,0.002,0.002,0.002,0.002,0.002,0.003,0.002,0.002,0.002,0.002,0.003,0.005,0.003,0.002,0.002,0.002,0.002,0.002,0.002,0.002,
0.006,0.02,0.035,0.03,0.025,0.028,0.022,0.025,0.018,0.02,0.016,0.013,0.008,0.003,0.008,0.015,0.02,0.016,0.01,0.01,0.009,0.01,0.012,0.009,
0.005,0.004,0.003,0.004,0.003]}
]},
"transform":[{"flatten":["t","v"]}],
"mark":{"type":"line","strokeWidth":1,"interpolate":"monotone","clip":true},
"encoding":{"color":{"field":"s","type":"nominal","legend":null,"scale":{"domain":["a","b","c","d","e","f","g","h","i","j","k","l","m","n","o","p","q","r"],"range":["#2233cc","#1a801a","#ee2222","#10b0b0","#b020b0","#b0b010","#404040","#2233cc","#1a801a","#ee2222","#10b0b0","#b020b0","#b0b010","#404040","#2233cc","#1a801a","#ee2222","#10b0b0"]}}}
},
{"data":{"values":[
{"g":"top","o":1,"t":3,"v":0.311},{"g":"top","o":2,"t":9.5,"v":0.311},
{"g":"st","o":1,"t":3,"v":0.311},{"g":"st","o":2,"t":3.443,"v":0.311},{"g":"st","o":3,"t":3.443,"v":-0.002},{"g":"st","o":4,"t":4.725,"v":-0.002},{"g":"st","o":5,"t":4.725,"v":0.311},{"g":"st","o":6,"t":5.679,"v":0.311},{"g":"st","o":7,"t":5.679,"v":-0.002},{"g":"st","o":8,"t":6.978,"v":-0.002},{"g":"st","o":9,"t":6.978,"v":0.311},{"g":"st","o":10,"t":8.06,"v":0.311},{"g":"st","o":11,"t":8.06,"v":-0.002},{"g":"st","o":12,"t":9.257,"v":-0.002},{"g":"st","o":13,"t":9.257,"v":0.311},{"g":"st","o":14,"t":9.5,"v":0.311}
]},
"mark":{"type":"line","strokeWidth":1,"color":"#3b4cc0"},
"encoding":{"detail":{"field":"g","type":"nominal"},"order":{"field":"o","type":"quantitative"}}
},
{"data":{"values":[
{"v":0.295,"t":[3,3.02,3.04,3.06,3.08,3.1,3.12,4.74,4.76,4.78,4.8,4.82,4.84,4.86,4.88,4.9,4.92,4.94,4.96,4.98,5,5.02,5.04,5.06,5.08,5.1,5.12,5.14,5.16,5.18,5.2,5.22,5.24,5.26,5.28,5.3,5.32,5.34,5.36,5.38,5.4,5.42,5.44,5.46,5.48,5.5,5.52,6.9,6.92,6.94,6.96,6.98,7,7.02,7.04,7.06,7.08,7.1,7.12,7.14,7.16,7.18,7.2,7.22,7.24,7.26,7.28,7.3,7.32,7.34,7.36,7.38,7.4,7.42,7.44,7.46,7.48,7.5,7.52,7.54,7.56,7.58,7.6,7.62,7.64,7.66,7.68,7.7,7.72,7.74,7.76,7.78,7.8,7.82,9.26,9.28,9.3,9.32,9.34,9.36,9.38,9.4,9.42,9.44,9.46,9.48,9.5]},
{"v":-0.003,"t":[3.14,3.16,3.18,3.2,3.22,3.24,3.26,3.28,3.3,3.32,3.34,3.36,3.38,3.4,3.42,3.44,3.46,3.48,3.5,3.52,3.54,3.56,3.58,3.6,3.62,3.64,3.66,3.68,3.7,3.72,3.74,3.76,3.78,3.8,3.82,3.84,3.86,3.88,3.9,3.92,3.94,3.96,3.98,4,4.02,4.04,4.06,4.08,4.1,4.12,4.14,4.16,4.18,4.2,4.22,4.24,4.26,4.28,4.3,4.32,4.34,4.36,4.38,4.4,4.42,4.44,4.46,4.48,4.5,4.52,4.54,4.56,4.58,4.6,4.62,4.64,4.66,4.68,4.7,4.72,5.54,5.56,5.58,5.6,5.62,5.64,5.66,5.68,5.7,5.72,5.74,5.76,5.78,5.8,5.82,5.84,5.86,5.88,5.9,5.92,5.94,5.96,5.98,6,6.02,6.04,6.06,6.08,6.1,6.12,6.14,6.16,6.18,6.2,6.22,6.24,6.26,6.28,6.3,6.32,6.34,6.36,6.38,6.4,6.42,6.44,6.46,6.48,6.5,6.52,6.54,6.56,6.58,6.6,6.62,6.64,6.66,6.68,6.7,6.72,6.74,6.76,6.78,6.8,6.82,6.84,6.86,6.88,7.84,7.86,7.88,7.9,7.92,7.94,7.96,7.98,8,8.02,8.04,8.06,8.08,8.1,8.12,8.14,8.16,8.18,8.2,8.22,8.24,8.26,8.28,8.3,8.32,8.34,8.36,8.38,8.4,8.42,8.44,8.46,8.48,8.5,8.52,8.54,8.56,8.58,8.6,8.62,8.64,8.66,8.68,8.7,8.72,8.74,8.76,8.78,8.8,8.82,8.84,8.86,8.88,8.9,8.92,8.94,8.96,8.98,9,9.02,9.04,9.06,9.08,9.1,9.12,9.14,9.16,9.18,9.2,9.22,9.24]}
]},
"transform":[{"flatten":["t"]}],
"mark":{"type":"point","shape":"circle","filled":false,"color":"#ee3333","strokeWidth":1,"size":38,"clip":true}
},
{"data":{"values":[
{"v":0.311,"t":[3,3.02,3.04,3.06,3.08,3.1,3.12,3.14,3.16,3.18,3.2,3.22,3.24,3.26,3.28,3.3,3.32,3.34,3.36,3.38,3.4,3.42,3.44,3.46,3.48,3.5,3.52,4.64,4.66,4.68,4.7,4.72,4.74,4.76,4.78,4.8,4.82,4.84,4.86,4.88,4.9,4.92,4.94,4.96,4.98,5,5.02,5.04,5.06,5.08,5.1,5.12,5.14,5.16,5.18,5.2,5.22,5.24,5.26,5.28,5.3,5.32,5.34,5.36,5.38,5.4,5.42,5.44,5.46,5.48,5.5,5.52,5.54,5.56,5.58,5.6,5.62,5.64,5.66,5.68,5.7,5.72,5.74,5.76,6.88,6.9,6.92,6.94,6.96,6.98,7,7.02,7.04,7.06,7.08,7.1,7.12,7.14,7.16,7.18,7.2,7.22,7.24,7.26,7.28,7.3,7.32,7.34,7.36,7.38,7.4,7.42,7.44,7.46,7.48,7.5,7.52,7.54,7.56,7.58,7.6,7.62,7.64,7.66,7.68,7.7,7.72,7.74,7.76,7.78,7.8,7.82,7.84,7.86,7.88,7.9,7.92,7.94,7.96,7.98,8,8.02,8.04,8.06,8.08,8.1,8.12,8.14,9.16,9.18,9.2,9.22,9.24,9.26,9.28,9.3,9.32,9.34,9.36,9.38,9.4,9.42,9.44,9.46,9.48,9.5]}
]},
"transform":[{"flatten":["t"]}],
"mark":{"type":"point","shape":"M-1,-0.8L1,0.8M-1,0.8L1,-0.8","filled":false,"color":"#3b4cc0","strokeWidth":1,"size":34,"clip":true}
}
]
}
